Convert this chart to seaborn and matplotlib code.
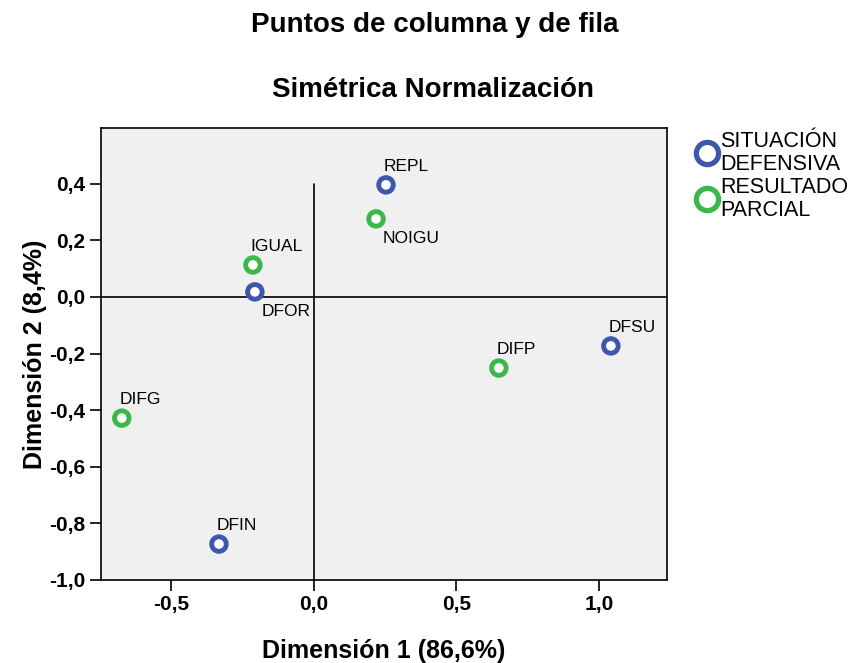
import matplotlib
matplotlib.use("Agg")
import matplotlib.pyplot as plt
import seaborn as sns
import pandas as pd
from matplotlib.lines import Line2D

# Data
labels = ["REPL", "DFOR", "DFSU", "DFIN", "NOIGU", "IGUAL", "DIFP", "DIFG"]
dim1 = [0.253, -0.207, 1.042, -0.333, 0.218, -0.214, 0.649, -0.674]
dim2 = [0.396, 0.018, -0.173, -0.873, 0.276, 0.113, -0.251, -0.428]
groups = ["SITUACIÓN\nDEFENSIVA"] * 4 + ["RESULTADO\nPARCIAL"] * 4
label_below = ["NOIGU", "DFOR"]
xticks = [-0.5, 0.0, 0.5, 1.0]
yticks = [-1.0, -0.8, -0.6, -0.4, -0.2, 0.0, 0.2, 0.4]

df = pd.DataFrame({"dim1": dim1, "dim2": dim2, "group": groups, "label": labels})

sns.set_theme(style="white")
plt.rcParams["font.family"] = ["Liberation Sans", "DejaVu Sans"]
plt.rcParams["text.color"] = "black"
plt.rcParams["axes.labelcolor"] = "black"
plt.rcParams["xtick.color"] = "black"
plt.rcParams["ytick.color"] = "black"

colors = {"SITUACIÓN\nDEFENSIVA": "#3d57ab", "RESULTADO\nPARCIAL": "#3ab84a"}

fig = plt.figure(figsize=(8.53, 6.63), dpi=100)
ax = fig.add_axes([101 / 853, 1 - 580 / 663, (667 - 101) / 853, (580 - 128) / 663])
ax.set_facecolor("#f0f0f0")

ax.set_xlim(-0.747, 1.239)
ax.set_ylim(-1.0, 0.597)

# reference lines
ax.axhline(0, color="black", lw=1.2, zorder=1)
ax.plot([0, 0], [-1.0, 0.4], color="black", lw=1.2, zorder=1)

sns.scatterplot(data=df, x="dim1", y="dim2", hue="group", palette=colors,
                ax=ax, s=110, linewidth=3.5, legend=False, zorder=3)
coll = ax.collections[-1]
coll.set_edgecolors([colors[g] for g in df["group"]])
coll.set_facecolors("white")

for x, y, t in zip(dim1, dim2, labels):
    if t in label_below:
        ax.annotate(t, (x, y), xytext=(5, -9), textcoords="offset points",
                    ha="left", va="top", fontsize=12.5, color="black")
    else:
        ax.annotate(t, (x, y), xytext=(-1.5, 8), textcoords="offset points",
                    ha="left", va="bottom", fontsize=12.5, color="black")

ax.set_xticks(xticks)
ax.set_xticklabels([f"{v:.1f}".replace(".", ",") for v in xticks])
ax.set_yticks(yticks)
ax.set_yticklabels([f"{v:.1f}".replace(".", ",") for v in yticks])
ax.tick_params(axis="both", direction="out", length=8, width=1.2, color="black",
               labelsize=15, bottom=True, left=True, pad=3)
for lab in ax.get_xticklabels() + ax.get_yticklabels():
    lab.set_fontweight("bold")
for sp in ax.spines.values():
    sp.set_color("black")
    sp.set_linewidth(1.2)

ax.set_xlabel("Dimensión 1 (86,6%)", fontsize=18, fontweight="bold", labelpad=18)
ax.set_ylabel("Dimensión 2 (8,4%)", fontsize=18, fontweight="bold", labelpad=2)

fig.text(435 / 853, 1 - 25 / 663, "Puntos de columna y de fila", ha="center", va="center",
         fontsize=20, fontweight="bold")
fig.text(433 / 853, 1 - 90 / 663, "Simétrica Normalización", ha="center", va="center",
         fontsize=20, fontweight="bold")

handles = [Line2D([], [], marker="o", linestyle="none", markersize=16, markerfacecolor="white",
                  markeredgecolor=c, markeredgewidth=3.8) for c in colors.values()]
leg = fig.legend(handles, list(colors.keys()), loc="upper left",
                 bbox_to_anchor=(688 / 853, 1 - 122 / 663), frameon=False, fontsize=15.5,
                 handletextpad=0.1, labelspacing=0.1, handlelength=1.0, borderaxespad=0)
for t in leg.get_texts():
    t.set_linespacing(1.12)

fig.savefig("out.png", dpi=100)
